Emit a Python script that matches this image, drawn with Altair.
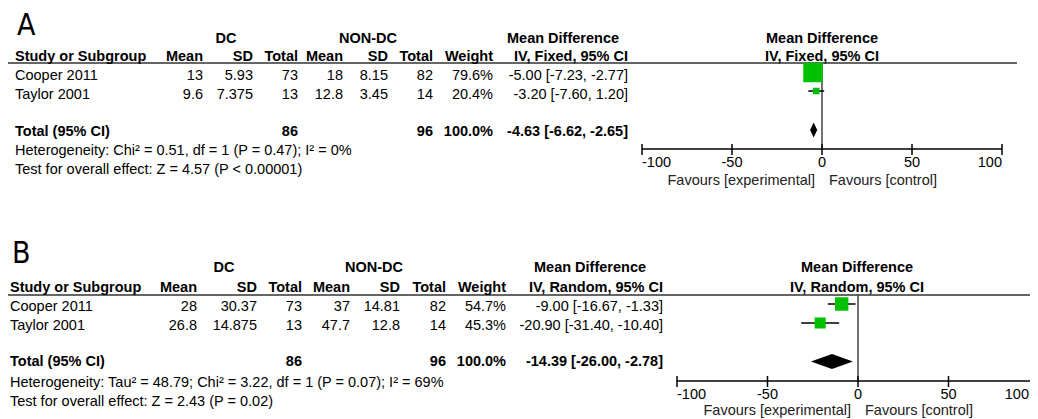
import altair as alt
import pandas as pd

# ---------------- data ----------------
studies = ["Cooper 2011", "Taylor 2001"]
ticks = [-100, -50, 0, 50, 100]
fav_left = "Favours [experimental]"
fav_right = "Favours [control]"

# Panel A
a_dc_mean = [13, 9.6]
a_dc_sd = [5.93, 7.375]
a_dc_total = [73, 13]
a_non_mean = [18, 12.8]
a_non_sd = [8.15, 3.45]
a_non_total = [82, 14]
a_weight = [79.6, 20.4]
a_md = [-5.00, -3.20]
a_lo = [-7.23, -7.60]
a_hi = [-2.77, 1.20]
a_totals = [86, 96, 100.0]
a_pooled = [-4.63, -6.62, -2.65]
a_method = "IV, Fixed, 95% CI"
a_het = "Heterogeneity: Chi² = 0.51, df = 1 (P = 0.47); I² = 0%"
a_test = "Test for overall effect: Z = 4.57 (P < 0.00001)"

# Panel B
b_dc_mean = [28, 26.8]
b_dc_sd = [30.37, 14.875]
b_dc_total = [73, 13]
b_non_mean = [37, 47.7]
b_non_sd = [14.81, 12.8]
b_non_total = [82, 14]
b_weight = [54.7, 45.3]
b_md = [-9.00, -20.90]
b_lo = [-16.67, -31.40]
b_hi = [-1.33, -10.40]
b_totals = [86, 96, 100.0]
b_pooled = [-14.39, -26.00, -2.78]
b_method = "IV, Random, 95% CI"
b_het = "Heterogeneity: Tau² = 48.79; Chi² = 3.22, df = 1 (P = 0.07); I² = 69%"
b_test = "Test for overall effect: Z = 2.43 (P = 0.02)"

# ---------------- layout / style ----------------
FONT = "Liberation Sans"
LETTER_FONT = "DejaVu Sans Condensed, Liberation Sans"
FS = 14.5
OX, OY = 8, 8           # page margin: layout below is in page pixels
W, H = 1022, 411
VIS_RIGHT = OX + W      # last visible page pixel column
GREEN = "#00C000"
LINE = "#333333"

LAYOUT = {
    "A": dict(letter=(17, 24), study_x=15,
              cols=[203, 253, 298, 343, 388, 433, 493, 628],
              dc_c=226, non_c=368, md_c=563, fp_c=822,
              grp_y=39, hdr_y=57, line_y=63, line_x=(5, 1017),
              rows_y=[76, 95], total_y=132, het_y=151, test_y=170,
              fp_range=(642, 1002), fp_rows=[72.5, 91], fp_total=130,
              axis_y=149, lbl_y=163, fav_y=181),
    "B": dict(letter=(12, 252), study_x=10,
              cols=[197, 257, 302, 350, 400, 446, 506, 663],
              dc_c=224, non_c=374, md_c=590, fp_c=857,
              grp_y=268, hdr_y=288, line_y=295, line_x=(5, 1040),
              rows_y=[307, 326], total_y=362, het_y=383, test_y=402,
              fp_range=(677, 1039), fp_rows=[304, 323], fp_total=361.5,
              axis_y=381, lbl_y=395, fav_y=411),
}

PANELS = {
    "A": dict(dc_mean=a_dc_mean, dc_sd=a_dc_sd, dc_total=a_dc_total,
              non_mean=a_non_mean, non_sd=a_non_sd, non_total=a_non_total,
              weight=a_weight, md=a_md, lo=a_lo, hi=a_hi, totals=a_totals,
              pooled=a_pooled, method=a_method, het=a_het, test=a_test),
    "B": dict(dc_mean=b_dc_mean, dc_sd=b_dc_sd, dc_total=b_dc_total,
              non_mean=b_non_mean, non_sd=b_non_sd, non_total=b_non_total,
              weight=b_weight, md=b_md, lo=b_lo, hi=b_hi, totals=b_totals,
              pooled=b_pooled, method=b_method, het=b_het, test=b_test),
}


def fmt_num(v):
    return str(v)


def fmt_ci(m, lo, hi):
    return f"{m:.2f} [{lo:.2f}, {hi:.2f}]"


cells = []


def add(x, y, t, align, bold=False, size=FS, font=FONT, base="middle"):
    cells.append(dict(x=x - OX, y=y - OY, text=t, align=align,
                      bold=bool(bold), size=float(size), font=font, base=base))


layers = []

for name in ["A", "B"]:
    d = PANELS[name]
    L = LAYOUT[name]
    c = L["cols"]
    # panel letter: bottom of glyph sits on the given line
    add(L["letter"][0], L["letter"][1] + 11, name, "left", False, 30, LETTER_FONT,
        "alphabetic")
    # group headers
    add(L["dc_c"], L["grp_y"], "DC", "center", True)
    add(L["non_c"], L["grp_y"], "NON-DC", "center", True)
    add(L["md_c"], L["grp_y"], "Mean Difference", "center", True)
    add(L["fp_c"], L["grp_y"], "Mean Difference", "center", True)
    # column headers
    add(L["study_x"], L["hdr_y"], "Study or Subgroup", "left", True)
    heads = ["Mean", "SD", "Total", "Mean", "SD", "Total", "Weight", d["method"]]
    for x, h in zip(c, heads):
        add(x, L["hdr_y"], h, "right", True)
    add(L["fp_c"], L["hdr_y"], d["method"], "center", True)
    # study rows
    for i, s in enumerate(studies):
        y = L["rows_y"][i]
        add(L["study_x"], y, s, "left")
        vals = [fmt_num(d["dc_mean"][i]), fmt_num(d["dc_sd"][i]), fmt_num(d["dc_total"][i]),
                fmt_num(d["non_mean"][i]), fmt_num(d["non_sd"][i]), fmt_num(d["non_total"][i]),
                f"{d['weight'][i]:.1f}%", fmt_ci(d["md"][i], d["lo"][i], d["hi"][i])]
        for x, v in zip(c, vals):
            add(x, y, v, "right")
    # total row
    ty = L["total_y"]
    add(L["study_x"], ty, "Total (95% CI)", "left", True)
    add(c[2], ty, str(d["totals"][0]), "right", True)
    add(c[5], ty, str(d["totals"][1]), "right", True)
    add(c[6], ty, f"{d['totals'][2]:.1f}%", "right", True)
    add(c[7], ty, fmt_ci(*d["pooled"]), "right", True)
    add(L["study_x"], L["het_y"], d["het"], "left")
    add(L["study_x"], L["test_y"], d["test"], "left")

    # ---------- header rule ----------
    lx0, lx1 = L["line_x"]
    layers.append(
        alt.Chart(pd.DataFrame({"a": [lx0 - OX], "b": [lx1 - OX]}))
        .mark_rule(color=LINE, strokeWidth=1.6)
        .encode(x=alt.X("a:Q", scale=None), x2="b:Q", y=alt.value(L["line_y"] - OY))
    )

    # ---------- forest plot ----------
    sc = alt.Scale(domain=[ticks[0], ticks[-1]],
                   range=[L["fp_range"][0] - OX, L["fp_range"][1] - OX])

    def X(field):
        return alt.X(field, scale=sc, axis=None)

    fdf = pd.DataFrame({
        "study": studies, "md": d["md"], "lo": d["lo"], "hi": d["hi"],
        "weight": d["weight"],
    })
    fdf["y"] = [v - OY for v in L["fp_rows"]]
    fdf["size"] = [max(6.5, 0.245 * w) ** 2 for w in d["weight"]]

    # zero line
    layers.append(
        alt.Chart(pd.DataFrame({"z": [0]}))
        .mark_rule(color="#444444", strokeWidth=1.5)
        .encode(x=X("z:Q"), y=alt.value(L["line_y"] - OY),
                y2=alt.value(L["axis_y"] - OY))
    )
    # CI lines
    layers.append(
        alt.Chart(fdf).mark_rule(color="#000000", strokeWidth=1.5)
        .encode(x=X("lo:Q"), x2="hi:Q", y=alt.Y("y:Q", scale=None))
    )
    # squares
    layers.append(
        alt.Chart(fdf).mark_square(color=GREEN, opacity=1, filled=True)
        .encode(x=X("md:Q"), y=alt.Y("y:Q", scale=None),
                size=alt.Size("size:Q", scale=None))
    )
    # pooled diamond
    est, plo, phi = d["pooled"]
    cy = L["fp_total"] - OY
    hh = 7.5
    ddf = pd.DataFrame({"x": [plo, est, phi],
                        "yt": [cy, cy - hh, cy], "yb": [cy, cy + hh, cy]})
    layers.append(
        alt.Chart(ddf).mark_area(color="#000000", opacity=1)
        .encode(x=X("x:Q"), y=alt.Y("yt:Q", scale=None), y2="yb:Q")
    )
    # axis line
    layers.append(
        alt.Chart(pd.DataFrame({"a": [ticks[0]], "b": [ticks[-1]]}))
        .mark_rule(color="#000000", strokeWidth=1.5)
        .encode(x=X("a:Q"), x2="b:Q", y=alt.value(L["axis_y"] - OY))
    )
    # ticks
    tdf = pd.DataFrame({"t": ticks, "label": [str(t) for t in ticks]})
    layers.append(
        alt.Chart(tdf).mark_rule(color="#000000", strokeWidth=1.5)
        .encode(x=X("t:Q"), y=alt.value(L["axis_y"] - OY - 5),
                y2=alt.value(L["axis_y"] - OY + 6))
    )
    # tick labels (flush at the ends, kept inside the visible page)
    last_dx = min(0, VIS_RIGHT - 1 - L["fp_range"][1])
    for sub, al, ddx in [(tdf.iloc[[0]], "left", 0), (tdf.iloc[1:-1], "center", 0),
                         (tdf.iloc[[-1]], "right", last_dx)]:
        layers.append(
            alt.Chart(sub.reset_index(drop=True))
            .mark_text(align=al, baseline="middle", dx=ddx, font=FONT, fontSize=FS,
                       color="#000000")
            .encode(x=X("t:Q"), y=alt.value(L["lbl_y"] - OY), text="label:N")
        )
    # favours labels
    for txt, al, dx in [(fav_left, "right", -7), (fav_right, "left", 7)]:
        layers.append(
            alt.Chart(pd.DataFrame({"z": [0], "t": [txt]}))
            .mark_text(align=al, baseline="middle", dx=dx, font=FONT, fontSize=FS,
                       color="#222222")
            .encode(x=X("z:Q"), y=alt.value(L["fav_y"] - OY), text="t:N")
        )

# table text layers
cdf = pd.DataFrame(cells)
for (al, bd, sz, fn, bs), g in cdf.groupby(["align", "bold", "size", "font", "base"]):
    layers.append(
        alt.Chart(g.reset_index(drop=True))
        .mark_text(align=al, baseline=bs, font=fn, fontSize=float(sz),
                   fontWeight="bold" if bd else "normal", color="#000000")
        .encode(x=alt.X("x:Q", scale=None), y=alt.Y("y:Q", scale=None), text="text:N")
    )

chart = (
    alt.layer(*layers)
    .resolve_scale(x="independent", y="independent", size="independent")
    .properties(width=W, height=H, padding=0, autosize=alt.AutoSizeParams(type="none"))
    .configure_view(stroke=None)
)

chart.save("out.html", embed_options={"renderer": "svg", "actions": False})
